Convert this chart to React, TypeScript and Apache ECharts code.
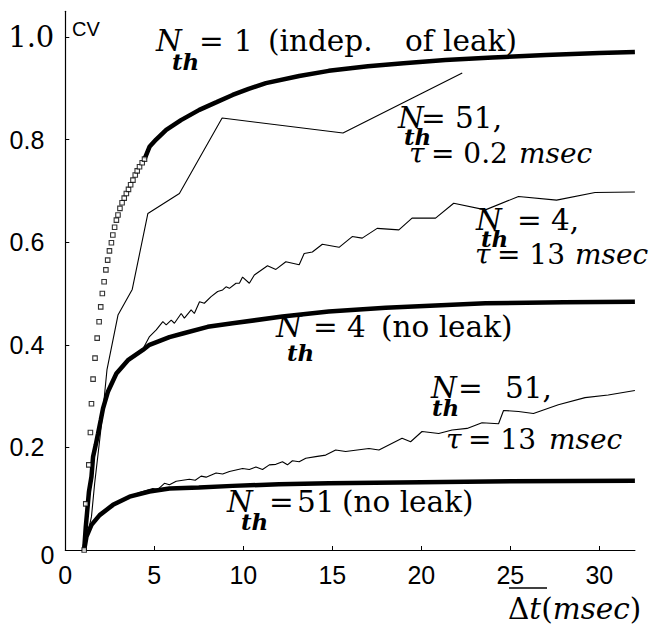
import React, { useEffect, useRef } from "react";
import * as echarts from "echarts";

// ---- data ----
const xTicks = [0, 5, 10, 15, 20, 25, 30];
const yTicks = [0, 0.2, 0.4, 0.6, 0.8, 1.0];

// N_th = 1 : open-square points on the rising part
const n1Points: number[][] = [
  [1.06, 0], [1.15, 0.09], [1.32, 0.166], [1.41, 0.229], [1.47, 0.285], [1.56, 0.333],
  [1.67, 0.374], [1.79, 0.413], [1.9, 0.445], [1.99, 0.474], [2.08, 0.5], [2.18, 0.523],
  [2.28, 0.546], [2.38, 0.565], [2.48, 0.583], [2.59, 0.599], [2.67, 0.614], [2.77, 0.629],
  [2.87, 0.643], [2.96, 0.653], [3.07, 0.666], [3.19, 0.677], [3.31, 0.686], [3.43, 0.695],
  [3.55, 0.703], [3.67, 0.712], [3.8, 0.721], [3.93, 0.731], [4.04, 0.739], [4.17, 0.747],
  [4.32, 0.755], [4.45, 0.762],
];
// N_th = 1 : thick curve
const n1Curve: number[][] = [
  [4.45, 0.762], [4.73, 0.786], [5.1, 0.8], [5.67, 0.819], [6.5, 0.838], [7.53, 0.858],
  [8.5, 0.873], [9.4, 0.887], [10.3, 0.899], [11.27, 0.91], [13.14, 0.924], [14.8, 0.934],
  [17, 0.943], [19, 0.949], [21.35, 0.955], [24, 0.96], [27, 0.965], [30, 0.969], [32, 0.971],
];
// N_th = 4 (no leak)
const n4NoLeak: number[][] = [
  [1.06, 0], [1.15, 0.045], [1.33, 0.114], [1.47, 0.143], [1.56, 0.182], [1.71, 0.205],
  [1.84, 0.227], [1.99, 0.253], [2.12, 0.276], [2.4, 0.309], [2.87, 0.344], [3.52, 0.37],
  [4.36, 0.39], [4.73, 0.4], [5.85, 0.415], [6.6, 0.422], [8, 0.435], [9.4, 0.442],
  [12.2, 0.455], [14.8, 0.465], [18, 0.472], [23.6, 0.481], [28, 0.483], [32, 0.484],
];
// N_th = 51 (no leak)
const n51NoLeak: number[][] = [
  [1.06, 0], [1.19, 0.026], [1.47, 0.049], [1.93, 0.068], [2.68, 0.088], [3.61, 0.104],
  [4.73, 0.114], [5.85, 0.12], [7.5, 0.122], [9.4, 0.125], [12, 0.128], [14.8, 0.13],
  [20, 0.132], [25, 0.134], [32, 0.135],
];
// N_th = 51, tau = 0.2 msec
const n51Tau02: number[][] = [
  [1.06, 0], [1.47, 0.065], [1.65, 0.13], [1.93, 0.214], [2.12, 0.273], [2.34, 0.351],
  [2.96, 0.458], [3.76, 0.508], [4.64, 0.656], [6.41, 0.695], [8.81, 0.842], [15.6, 0.813],
  [22.3, 0.93],
];
// N_th = 4, tau = 13 msec
const n4Tau13: number[][] = [
  [1.06, 0], [1.33, 0.114], [1.56, 0.182], [1.99, 0.253], [2.4, 0.309], [2.87, 0.344],
  [3.52, 0.37], [4.36, 0.392], [4.73, 0.416], [5.11, 0.429], [5.48, 0.445], [5.67, 0.439],
  [5.95, 0.448], [6.13, 0.442], [6.51, 0.461], [6.69, 0.452], [7.07, 0.468], [7.25, 0.461],
  [7.54, 0.484], [7.81, 0.481], [8.19, 0.494], [8.56, 0.504], [8.84, 0.507], [9.03, 0.513],
  [9.22, 0.51], [9.59, 0.52], [9.78, 0.52], [9.96, 0.532], [10.34, 0.52], [10.62, 0.536],
  [10.9, 0.543], [11.36, 0.554], [11.83, 0.547], [12.39, 0.562], [13.14, 0.556], [13.42, 0.578],
  [13.88, 0.581], [14.44, 0.596], [15.38, 0.59], [16.12, 0.611], [16.68, 0.608], [17.52, 0.627],
  [18.74, 0.624], [19.48, 0.647], [20.8, 0.647], [21.82, 0.676], [23.6, 0.663], [25.46, 0.689],
  [27.6, 0.682], [29.76, 0.697], [32, 0.698],
];
// N_th = 51, tau = 13 msec
const n51Tau13: number[][] = [
  [1.06, 0], [1.19, 0.026], [1.47, 0.049], [1.93, 0.068], [2.68, 0.088], [3.61, 0.104],
  [4.17, 0.112], [4.92, 0.12], [5.2, 0.118], [5.57, 0.13], [5.85, 0.127], [6.23, 0.134],
  [6.6, 0.136], [6.97, 0.138], [7.3, 0.136], [7.63, 0.144], [7.91, 0.142], [8.47, 0.15],
  [8.84, 0.148], [9.22, 0.153], [9.59, 0.156], [9.96, 0.159], [10.34, 0.157], [10.71, 0.162],
  [11.08, 0.157], [11.46, 0.166], [11.83, 0.167], [12.2, 0.172], [12.48, 0.166], [12.76, 0.174],
  [13.14, 0.172], [13.51, 0.179], [14.07, 0.182], [14.63, 0.185], [15.19, 0.195], [15.75, 0.192],
  [16.4, 0.195], [17.06, 0.198], [17.62, 0.195], [18.92, 0.218], [19.4, 0.211], [20.04, 0.231],
  [20.98, 0.227], [21.73, 0.234], [22.57, 0.237], [23.41, 0.248], [24.34, 0.246], [24.62, 0.272],
  [25.46, 0.27], [26.3, 0.266], [27.7, 0.283], [29.2, 0.297], [30.5, 0.302], [32, 0.311],
];

// ---- styling helpers ----
const SERIF = "DejaVu Serif";
const SANS = "Liberation Sans";

const MAIN = { fontFamily: SERIF, fontSize: 29.5, fontStyle: "normal", fontWeight: "normal" };
const ITAL = { fontFamily: SERIF, fontSize: 29.5, fontStyle: "italic", fontWeight: "normal" };
const TAU_MAIN = { ...MAIN, fontSize: 28 };
const TAU_ITAL = { ...ITAL, fontSize: 28 };
const SUB = { fontFamily: SERIF, fontSize: 23, fontStyle: "italic", fontWeight: "bold" };

function txt(x: number, y: number, text: string, fontStyle: any, extra: any = {}) {
  return {
    type: "text",
    x,
    y,
    z: 100,
    silent: true,
    style: {
      text,
      ...fontStyle,
      fill: "#000",
      align: "left",
      verticalAlign: "middle",
      ...extra,
    },
  };
}

const richIt = { i: { ...ITAL, fill: "#000" }, r: { ...MAIN, fill: "#000" } };

// tau = value msec, with explicit x of each piece
function tauLine(tx: number, ex: number, mx: number, y: number, value: string) {
  return [
    txt(tx, y, "τ", TAU_ITAL),
    txt(ex, y, `= ${value}`, TAU_MAIN),
    txt(mx, y, "msec", TAU_ITAL),
  ];
}

function nth(nx: number, ny: number, tx: number, ty: number) {
  return [txt(nx, ny, "N", ITAL), txt(tx, ty, "th", SUB)];
}

export default function App() {
  const ref = useRef<HTMLDivElement>(null);
  useEffect(() => {
    if (!ref.current) return;
    const chart = echarts.init(ref.current, null, { renderer: "svg" });

    const thin = { color: "#000", width: 1.1 };
    const thick = { color: "#000", width: 4.5 };

    const graphics: any[] = [
      // y axis name
      txt(72, 29, "CV", { fontFamily: SANS, fontSize: 20 }),
      // N_th = 1 (indep. of leak)
      ...nth(156, 41, 172, 61),
      txt(199, 41, "=", MAIN),
      txt(234, 41, "1", MAIN),
      txt(268, 41, "(indep.", MAIN),
      txt(405, 41, "of leak)", MAIN),
      // N_th = 51, tau = 0.2 msec
      ...nth(398, 118, 404, 136),
      txt(421, 118, "= 51,", MAIN),
      ...tauLine(409, 431, 519, 153, "0.2"),
      // N_th = 4, tau = 13 msec
      ...nth(476, 220, 481, 238),
      txt(517, 220, "= 4,", MAIN),
      ...tauLine(475, 497, 575, 254, "13"),
      // N_th = 4 (no leak)
      ...nth(276, 327, 287, 352),
      txt(313, 327, "=", MAIN),
      txt(347, 327, "4", MAIN),
      txt(381, 327, "(no leak)", MAIN),
      // N_th = 51, tau = 13 msec
      ...nth(431, 388, 432, 407),
      txt(458, 388, "=", MAIN),
      txt(505, 388, "51,", MAIN),
      ...tauLine(446, 468, 549, 439, "13"),
      // N_th = 51 (no leak)
      ...nth(227, 502, 241, 521),
      txt(269, 502, "=", MAIN),
      txt(297, 502, "51", MAIN),
      txt(342, 502, "(no leak)", MAIN),
      // x axis title
      txt(508, 609, "{r|Δ}{i|t}{r|(}{i|msec}{r|)}", MAIN, { rich: richIt }),
      {
        type: "line",
        z: 100,
        silent: true,
        shape: { x1: 509, y1: 588, x2: 547, y2: 588 },
        style: { stroke: "#000", lineWidth: 1.5 },
      },
    ];

    chart.setOption({
      animation: false,
      backgroundColor: "#fff",
      grid: { left: 65.3, right: 18.1, top: 11.35, bottom: 83, containLabel: false },
      xAxis: {
        type: "value",
        min: 0,
        max: 32,
        interval: 5,
        splitLine: { show: false },
        axisLine: { show: true, onZero: false, lineStyle: { color: "#000", width: 1.2 } },
        axisTick: {
          show: true,
          inside: true,
          length: 4,
          customValues: xTicks,
          lineStyle: { color: "#000", width: 1 },
        },
        axisLabel: {
          show: true,
          customValues: xTicks,
          margin: 12,
          color: "#000",
          fontFamily: SANS,
          fontSize: 25,
        },
      },
      yAxis: {
        type: "value",
        min: 0,
        max: 1.05,
        interval: 0.2,
        splitLine: { show: false },
        axisLine: { show: true, onZero: false, lineStyle: { color: "#000", width: 1.2 } },
        axisTick: {
          show: true,
          inside: true,
          length: 4,
          customValues: yTicks,
          lineStyle: { color: "#000", width: 1 },
        },
        axisLabel: {
          show: true,
          customValues: yTicks,
          margin: 11,
          color: "#000",
          fontFamily: SANS,
          fontSize: 25,
          formatter: (v: number) => {
            if (Math.abs(v) < 1e-9) return "{z|0}";
            if (Math.abs(v - 1) < 1e-9) return "{s|1.0}";
            return "{r|" + v.toFixed(1) + "}";
          },
          rich: {
            r: { fontFamily: SANS, fontSize: 25, color: "#000", padding: [0, 10, 0, 0] },
            s: { fontFamily: SERIF, fontSize: 29, color: "#000" },
            z: { fontFamily: SANS, fontSize: 25, color: "#000", padding: [10, 0, 0, 0] },
          },
        },
      },
      series: [
        { type: "line", data: n51NoLeak, showSymbol: false, lineStyle: thick, z: 3 },
        { type: "line", data: n4NoLeak, showSymbol: false, lineStyle: thick, z: 3 },
        { type: "line", data: n1Curve, showSymbol: false, lineStyle: thick, z: 3 },
        { type: "line", data: n51Tau13, showSymbol: false, lineStyle: thin, z: 4 },
        { type: "line", data: n4Tau13, showSymbol: false, lineStyle: thin, z: 4 },
        { type: "line", data: n51Tau02, showSymbol: false, lineStyle: thin, z: 4 },
        {
          type: "scatter",
          data: n1Points,
          symbol: "rect",
          symbolSize: 4.5,
          itemStyle: { color: "#fff", borderColor: "#000", borderWidth: 1.1 },
          z: 5,
        },
      ],
      graphic: graphics,
    });
    return () => chart.dispose();
  }, []);
  return (
    <div
      ref={ref}
      style={{ position: "fixed", left: 0, top: 0, width: 653, height: 633, background: "#fff" }}
    />
  );
}
